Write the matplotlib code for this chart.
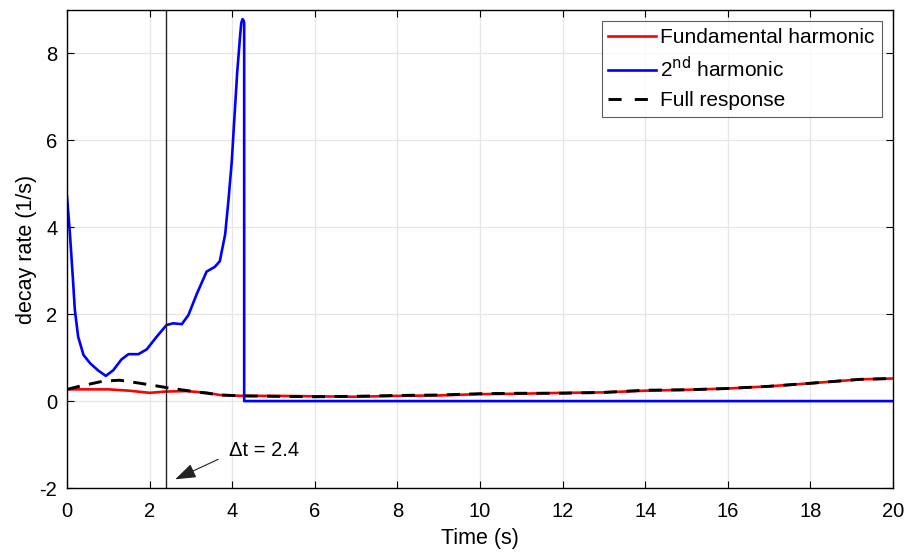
import numpy as np
import matplotlib
matplotlib.use("Agg")
import matplotlib.pyplot as plt

plt.rcParams['font.family'] = ['Liberation Sans', 'DejaVu Sans']

# values
t_second = [0.0, 0.07, 0.14, 0.19, 0.27, 0.40, 0.56, 0.76, 0.94, 1.12, 1.32, 1.49,
            1.73, 1.93, 2.17, 2.41, 2.57, 2.78, 2.94, 3.14, 3.38, 3.58, 3.70, 3.83,
            3.91, 3.99, 4.05, 4.12, 4.19, 4.22, 4.25, 4.28, 4.29, 4.29, 20.0]
second = [4.71, 3.86, 2.86, 2.10, 1.48, 1.06, 0.87, 0.70, 0.58, 0.71, 0.96, 1.08,
          1.08, 1.19, 1.48, 1.75, 1.79, 1.77, 1.98, 2.46, 2.98, 3.09, 3.22, 3.84,
          4.63, 5.52, 6.47, 7.55, 8.39, 8.70, 8.79, 8.75, 8.70, 0.0, 0.0]

t_fund = [0.0, 0.5, 1.0, 1.5, 2.0, 2.4, 2.9, 3.4, 3.7, 4.27, 5.0, 6.0, 7.0, 8.0, 9.0,
          10.0, 11.0, 12.0, 13.0, 14.0, 15.0, 16.0, 17.0, 18.0, 19.2, 20.0]
fund = [0.27, 0.27, 0.27, 0.24, 0.19, 0.22, 0.23, 0.19, 0.14, 0.12, 0.12, 0.11, 0.10,
        0.12, 0.13, 0.16, 0.17, 0.19, 0.20, 0.24, 0.26, 0.29, 0.34, 0.41, 0.50, 0.52]

t_full = [0.0, 0.3, 0.64, 0.88, 1.28, 1.77, 2.1, 2.41, 2.7, 3.06, 3.4, 3.70, 4.27,
          5.0, 6.0, 7.0, 8.0, 9.0, 10.0, 11.0, 12.0, 13.0, 14.0, 15.0, 16.0, 17.0,
          18.0, 19.2, 20.0]
full = [0.27, 0.34, 0.41, 0.46, 0.48, 0.41, 0.36, 0.31, 0.27, 0.22, 0.18, 0.14, 0.12,
        0.11, 0.10, 0.11, 0.13, 0.14, 0.17, 0.18, 0.18, 0.20, 0.25, 0.26, 0.29, 0.34,
        0.41, 0.50, 0.52]

t_mark = 2.4
label_mark = '\u0394t = 2.4'

fig = plt.figure(figsize=(9.17, 5.53), dpi=100)
ax = fig.add_axes([67/917, 1 - 488/553, (893-67)/917, (488-10)/553])

ax.plot(t_fund, fund, color='#ff0000', lw=1.9, label='Fundamental harmonic')
ax.plot(t_second, second, color='#0000ff', lw=1.9, label='2$^{\\rm nd}$ harmonic')
ax.plot(t_full, full, color='black', lw=2.1, ls=(0, (4.5, 3.2)), label='Full response')
ax.axvline(t_mark, color='#222222', lw=1.0)

# annotation: label plus a separate arrow
ax.text(3.92, -1.13, label_mark, fontsize=14.5, va='center', ha='left')
ax.annotate('', xy=(2.62, -1.80), xytext=(3.66, -1.34),
            arrowprops=dict(arrowstyle='-|>,head_length=0.8,head_width=0.28',
                            color='#222222', lw=0.8, mutation_scale=16,
                            shrinkA=0, shrinkB=0))

ax.set_xlim(0, 20)
ax.set_ylim(-2, 9)
ax.set_xticks(np.arange(0, 21, 2))
ax.set_yticks([-2, 0, 2, 4, 6, 8])
ax.set_yticklabels(['-2', '0', '2', '4', '6', '8'])
ax.grid(True, color='#e6e6e6', lw=0.9)
ax.set_axisbelow(True)
ax.tick_params(direction='in', top=True, right=True, labelsize=14.5, length=5,
               width=0.8)
ax.tick_params(axis='x', pad=10)
ax.tick_params(axis='y', pad=7)
for s in ax.spines.values():
    s.set_linewidth(1.0)

ax.set_xlabel('Time (s)', fontsize=15.5, labelpad=5)
ax.set_ylabel('decay rate (1/s)', fontsize=15.5, labelpad=2)

leg = ax.legend(loc='upper right', fontsize=15, frameon=True, fancybox=False,
                edgecolor='#333333', handlelength=2.3, handletextpad=0.2,
                borderpad=0.32, labelspacing=0.45, borderaxespad=0.55)
leg.get_frame().set_linewidth(0.8)
# two clean dashes in the legend sample, as in the reference
leg.get_lines()[2].set_linestyle((0, (4.5, 4.5)))

fig.savefig('out.png', dpi=100)
